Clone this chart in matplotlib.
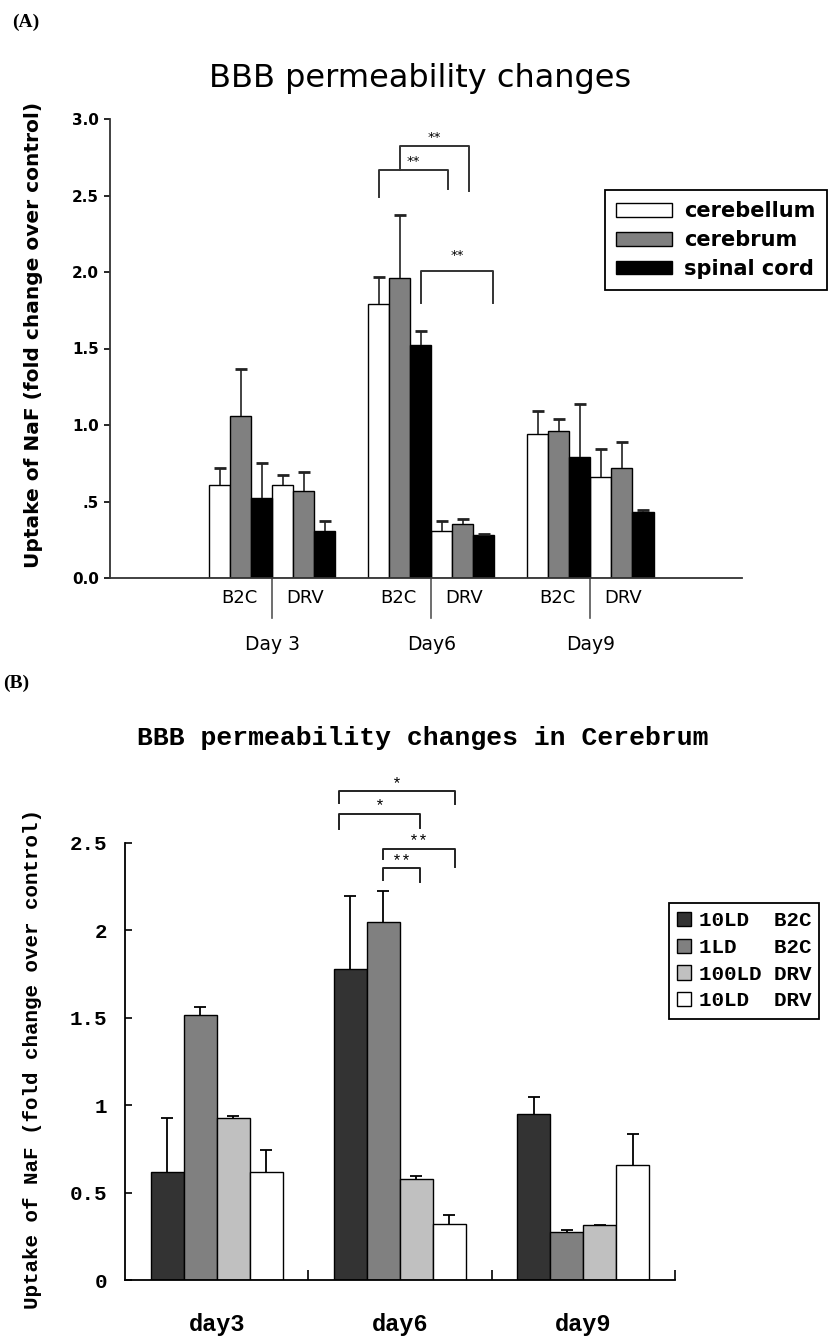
import matplotlib
matplotlib.use("Agg")
import matplotlib.pyplot as plt
import matplotlib.transforms as mtransforms
import numpy as np

# ---------------- data: panel A ----------------
days_a = ["Day 3", "Day6", "Day9"]
treatments_a = ["B2C", "DRV"]
tissues = ["cerebellum", "cerebrum", "spinal cord"]
# order: day3 B2C, day3 DRV, day6 B2C, day6 DRV, day9 B2C, day9 DRV
cerebellum = [0.61, 0.61, 1.79, 0.31, 0.94, 0.66]
cerebellum_err = [0.11, 0.06, 0.175, 0.064, 0.154, 0.18]
cerebrum = [1.06, 0.57, 1.96, 0.35, 0.96, 0.72]
cerebrum_err = [0.307, 0.125, 0.413, 0.037, 0.082, 0.17]
spinal_cord = [0.52, 0.31, 1.52, 0.28, 0.79, 0.43]
spinal_cord_err = [0.233, 0.065, 0.097, 0.009, 0.345, 0.014]
colors_a = ["white", "#808080", "black"]

# ---------------- data: panel B ----------------
days_b = ["day3", "day6", "day9"]
series_b = ["10LD  B2C", "1LD   B2C", "100LD DRV", "10LD  DRV"]
ld10_b2c = [0.62, 1.78, 0.95]
ld10_b2c_err = [0.306, 0.418, 0.096]
ld1_b2c = [1.515, 2.048, 0.277]
ld1_b2c_err = [0.048, 0.178, 0.01]
ld100_drv = [0.926, 0.579, 0.317]
ld100_drv_err = [0.01, 0.015, 0.0]
ld10_drv = [0.62, 0.32, 0.66]
ld10_drv_err = [0.124, 0.05, 0.175]
colors_b = ["#333333", "#808080", "#c0c0c0", "white"]

W, H = 829, 1337
fig = plt.figure(figsize=(W / 100, H / 100), dpi=100)
fig.patch.set_facecolor("white")

SANS = "DejaVu Sans"
MONO = "Liberation Mono"


def px_axes(l, t, r, b):
    return fig.add_axes([l / W, 1 - b / H, (r - l) / W, (b - t) / H])


def upper_errorbar(ax, xs, ys, es, **kw):
    # error bars drawn upward only: hide the cap that sits on the bar top
    cont = ax.errorbar(xs, ys, yerr=[np.zeros(len(es)), es], fmt="none", **kw)
    for cap in cont[1]:
        if np.allclose(cap.get_ydata(), ys):
            cap.set_visible(False)
    return cont


# ================= Panel A =================
axA = px_axes(110, 119, 742, 578)
seps = 7.7 + 7.55 * np.arange(len(days_a))
means_a = [cerebellum, cerebrum, spinal_cord]
errs_a = [cerebellum_err, cerebrum_err, spinal_cord_err]
for k, (vals, errs, col, name) in enumerate(zip(means_a, errs_a, colors_a, tissues)):
    xs, ys, es = [], [], []
    for d in range(len(days_a)):
        for t in range(len(treatments_a)):
            xs.append(seps[d] - 2.5 + k + 3 * t)
            ys.append(vals[2 * d + t])
            es.append(errs[2 * d + t])
    axA.bar(xs, ys, width=1.0, color=col, edgecolor="black", linewidth=1,
            label=name, zorder=2)
    upper_errorbar(axA, xs, ys, es, ecolor="#222222", elinewidth=1.2,
                   capsize=4.5, capthick=2, zorder=3)

axA.set_xlim(0, 30)
axA.set_ylim(0, 3.0)
axA.spines["top"].set_visible(False)
axA.spines["right"].set_visible(False)
for s in ("left", "bottom"):
    axA.spines[s].set_linewidth(1.3)
    axA.spines[s].set_color("#333333")
axA.set_yticks(np.arange(0, 3.01, 0.5))
axA.set_yticklabels(["0.0", ".5", "1.0", "1.5", "2.0", "2.5", "3.0"],
                    fontsize=11, fontweight="bold", family=SANS)
axA.tick_params(axis="y", direction="out", length=4, width=1.2, pad=4)
tick_x, tick_l = [], []
for s in seps:
    tick_x += [s - 1.55, s + 1.55]
    tick_l += treatments_a
axA.set_xticks(tick_x)
axA.set_xticklabels(tick_l, fontsize=13, family=SANS)
axA.tick_params(axis="x", length=0, pad=8)
trA = mtransforms.blended_transform_factory(axA.transData, axA.transAxes)
for s, lab in zip(seps, days_a):
    axA.plot([s, s], [0, -0.088], transform=trA, color="#555555", lw=1.2,
             clip_on=False)
    axA.text(s, -0.144, lab, transform=trA, ha="center", va="center",
             fontsize=13.5, family=SANS)

axA.set_ylabel("Uptake of NaF (fold change over control)", fontsize=14.5,
               fontweight="bold", family=SANS)
axA.yaxis.set_label_coords(-0.106, 0.53)

# significance brackets (x in bar slots, y in data units)
brackets_a = [
    (12.77, 16.04, 2.667, 2.489, 2.541, 2.72),
    (13.76, 17.04, 2.824, 2.667, 2.528, 2.876),
    (14.78, 18.18, 2.007, 1.795, 1.799, 2.11),
]
for x0, x1, yl, y0, y1, yt in brackets_a:
    axA.plot([x0, x0, x1, x1], [y0, yl, yl, y1], color="#333333", lw=1.4,
             clip_on=False, zorder=4)
    axA.text((x0 + x1) / 2, yt, "**", ha="center", va="center", fontsize=9.5,
             family=SANS)

legA = fig.legend(loc="upper left", bbox_to_anchor=(605 / W, 1 - 190 / H),
                  prop={"family": SANS, "weight": "bold", "size": 15},
                  frameon=True, fancybox=False, edgecolor="black",
                  framealpha=1, borderaxespad=0, borderpad=0.55,
                  handlelength=2.65, handleheight=0.62, handletextpad=0.6,
                  labelspacing=0.42)
legA.get_frame().set_linewidth(1.3)
fig.text(12 / W, 1 - 22 / H, "(A)", family="Liberation Serif",
         fontweight="bold", fontsize=14, va="center", ha="left")
fig.text(420 / W, 1 - 78 / H, "BBB permeability changes", family=SANS,
         fontsize=23, ha="center", va="center")

# ================= Panel B =================
axB = px_axes(125, 843, 675, 1280)
offsets = np.array([-0.27, -0.09, 0.09, 0.27])
xb = np.arange(len(days_b))
means_b = [ld10_b2c, ld1_b2c, ld100_drv, ld10_drv]
errs_b = [ld10_b2c_err, ld1_b2c_err, ld100_drv_err, ld10_drv_err]
barsB = []
for k, (vals, errs, col, name) in enumerate(zip(means_b, errs_b, colors_b, series_b)):
    b = axB.bar(xb + offsets[k], vals, width=0.18, color=col,
                edgecolor="black", linewidth=1, label=name, zorder=2)
    barsB.append(b)
    upper_errorbar(axB, xb + offsets[k], vals, errs, ecolor="black",
                   elinewidth=1.3, capsize=4.5, capthick=1.3, zorder=3)

axB.set_xlim(-0.5, 2.5)
axB.set_ylim(0, 2.5)
axB.spines["top"].set_visible(False)
axB.spines["right"].set_visible(False)
for s in ("left", "bottom"):
    axB.spines[s].set_linewidth(1.3)
axB.set_yticks([0, 0.5, 1, 1.5, 2, 2.5])
axB.set_yticklabels(["0", "0.5", "1", "1.5", "2", "2.5"], fontsize=15,
                    fontweight="bold", family=MONO)
axB.tick_params(axis="y", direction="in", length=5, width=1.2, pad=13)
axB.set_xticks([0.5, 1.5, 2.5])
axB.set_xticklabels([])
axB.tick_params(axis="x", direction="in", length=7, width=1.2)
axB.set_xticks(xb, minor=True)
axB.set_xticklabels(days_b, minor=True, fontsize=17, fontweight="bold",
                    family=MONO)
axB.tick_params(axis="x", which="minor", length=0, pad=24)
axB.set_ylabel("Uptake of NaF (fold change over control)", fontsize=15,
               fontweight="bold", family=MONO)
axB.yaxis.set_label_coords(-0.15, 0.505)

# brackets: (left bar, right bar, left shift, right shift, line y, left foot, right foot, label)
brackets_b = [
    (0, 3, -0.06, 0.03, 2.797, 2.729, 2.723, "*"),
    (0, 2, -0.06, 0.02, 2.666, 2.580, 2.586, "*"),
    (1, 3, 0.0, 0.03, 2.466, 2.408, 2.363, "**"),
    (1, 2, 0.0, 0.02, 2.357, 2.288, 2.277, "**"),
]
for i0, i1, s0, s1, yl, y0, y1, lab in brackets_b:
    x0 = xb[1] + offsets[i0] + s0
    x1 = xb[1] + offsets[i1] + s1
    axB.plot([x0, x0, x1, x1], [y0, yl, yl, y1], color="#222222", lw=1.4,
             clip_on=False, zorder=4)
    axB.text((x0 + x1) / 2, yl + 0.045, lab, ha="center", va="center",
             fontsize=12, family=MONO)

legB = axB.legend(handles=barsB, loc="upper left",
                  bbox_to_anchor=(669 / W, 1 - 903 / H),
                  bbox_transform=fig.transFigure,
                  prop={"family": MONO, "weight": "bold", "size": 15},
                  frameon=True, fancybox=False, edgecolor="black",
                  framealpha=1, borderaxespad=0, borderpad=0.4,
                  handlelength=0.67, handleheight=0.67, handletextpad=0.35,
                  labelspacing=0.37)
legB.get_frame().set_linewidth(1.3)
fig.text(3 / W, 1 - 683 / H, "(B)", family="Liberation Serif",
         fontweight="bold", fontsize=14, va="center", ha="left")
fig.text(423 / W, 1 - 738 / H, "BBB permeability changes in Cerebrum",
         family=MONO, fontweight="bold", fontsize=19, ha="center",
         va="center")

fig.savefig("out.png", dpi=100, facecolor="white")
